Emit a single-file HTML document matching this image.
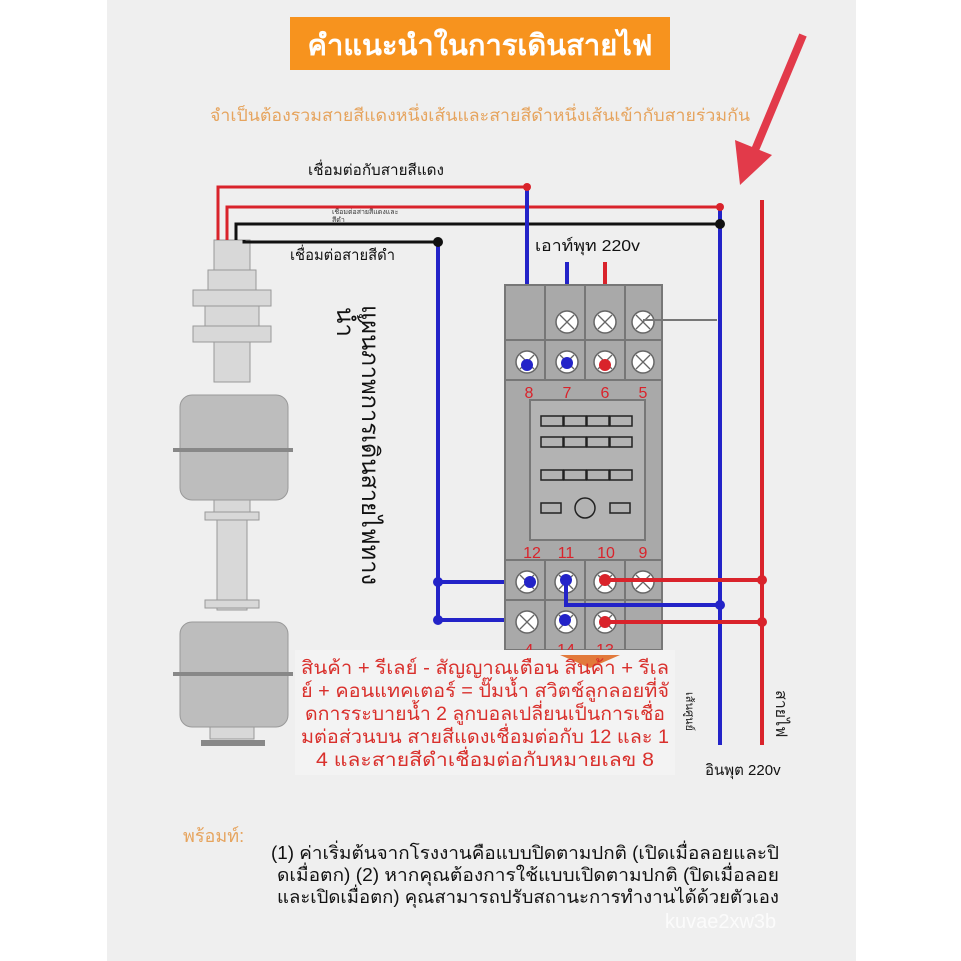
<!DOCTYPE html>
<html><head><meta charset="utf-8"><style>
html,body{margin:0;padding:0;background:#fff}
svg{display:block}
text{font-family:"Liberation Sans","Noto Sans CJK SC",sans-serif}
</style></head><body>
<svg width="961" height="961" viewBox="0 0 961 961" xmlns="http://www.w3.org/2000/svg">
<rect x="0" y="0" width="961" height="961" fill="#fff"/>
<rect x="107" y="0" width="749" height="961" fill="#efefef"/>
<!-- title -->
<rect x="290" y="17" width="380" height="53" fill="#f7931e"/>
<text x="480" y="55" font-size="29" font-weight="bold" fill="#fff" text-anchor="middle" textLength="345" lengthAdjust="spacingAndGlyphs">คำแนะนำในการเดินสายไฟ</text>
<text x="210" y="121" font-size="17" fill="#e6a45e" textLength="540" lengthAdjust="spacingAndGlyphs">จำเป็นต้องรวมสายสีแดงหนึ่งเส้นและสายสีดำหนึ่งเส้นเข้ากับสายร่วมกัน</text>
<!-- arrow -->
<line x1="803" y1="35" x2="755" y2="150" stroke="#e23a4a" stroke-width="8"/>
<polygon points="735,140 740,185 772,155" fill="#e23a4a"/>
<!-- labels -->
<text x="308" y="175" font-size="15" fill="#111" textLength="136" lengthAdjust="spacingAndGlyphs">เชื่อมต่อกับสายสีแดง</text>
<text x="332" y="214" font-size="7" fill="#333">เชื่อมต่อสายสีแดงและ</text>
<text x="332" y="222" font-size="7" fill="#333">สีดำ</text>
<text x="290" y="260" font-size="15" fill="#111" textLength="105" lengthAdjust="spacingAndGlyphs">เชื่อมต่อสายสีดำ</text>
<text x="535" y="251" font-size="16" fill="#111" textLength="105" lengthAdjust="spacingAndGlyphs">เอาท์พุท 220v</text>
<!-- float switch -->
<g fill="#d8d8d8" stroke="#999" stroke-width="1">
<rect x="214" y="240" width="36" height="30"/>
<rect x="208" y="270" width="48" height="20"/>
<rect x="193" y="290" width="78" height="16"/>
<rect x="205" y="306" width="54" height="20"/>
<rect x="193" y="326" width="78" height="16"/>
<rect x="214" y="342" width="36" height="40"/>
<rect x="180" y="395" width="108" height="105" rx="12" fill="#bdbdbd"/>
<rect x="214" y="500" width="36" height="12"/>
<rect x="205" y="512" width="54" height="8"/>
<rect x="217" y="520" width="30" height="90"/>
<rect x="205" y="600" width="54" height="8"/>
<rect x="180" y="622" width="108" height="105" rx="12" fill="#bdbdbd"/>
<rect x="210" y="727" width="44" height="12"/>
</g>
<rect x="173" y="448" width="120" height="4" fill="#888"/>
<rect x="173" y="672" width="120" height="4" fill="#888"/>
<rect x="201" y="740" width="64" height="6" fill="#888"/>
<!-- wires -->
<g fill="none" stroke-width="3">
<polyline points="218,240 218,187 527,187" stroke="#d9232b"/>
<polyline points="227,240 227,207 720,207" stroke="#d9232b"/>
<polyline points="236,240 236,224 720,224" stroke="#111"/>
<polyline points="244,240 244,242 438,242" stroke="#111"/>
<polyline points="527,187 527,365" stroke="#2323c8" stroke-width="4"/>
<polyline points="438,242 438,620 565,620" stroke="#2323c8" stroke-width="4"/>
<polyline points="438,582 530,582" stroke="#2323c8" stroke-width="4"/>
<polyline points="720,207 720,745" stroke="#2323c8" stroke-width="4"/>
<polyline points="567,262 567,363" stroke="#2323c8" stroke-width="4"/>
<polyline points="605,262 605,365" stroke="#d9232b" stroke-width="4"/>
<polyline points="762,200 762,745" stroke="#d9232b" stroke-width="4"/>
</g>
<!-- relay base -->
<rect x="505" y="285" width="157" height="365" fill="#a9a9a9" stroke="#777" stroke-width="2"/>
<rect x="530" y="400" width="115" height="140" fill="#b3b3b3" stroke="#777" stroke-width="2"/>
<g stroke="#777" stroke-width="2">
<line x1="545" y1="285" x2="545" y2="380"/><line x1="585" y1="285" x2="585" y2="380"/><line x1="625" y1="285" x2="625" y2="380"/>
<line x1="545" y1="560" x2="545" y2="650"/><line x1="585" y1="560" x2="585" y2="650"/><line x1="625" y1="560" x2="625" y2="650"/>
<line x1="505" y1="560" x2="662" y2="560"/><line x1="505" y1="380" x2="662" y2="380"/>
<line x1="505" y1="340" x2="662" y2="340"/><line x1="505" y1="600" x2="662" y2="600"/>
</g>
<g fill="#fff" stroke="#666" stroke-width="1.5">
<circle cx="567" cy="322" r="11"/><circle cx="605" cy="322" r="11"/><circle cx="643" cy="322" r="11"/>
<circle cx="527" cy="362" r="11"/><circle cx="567" cy="362" r="11"/><circle cx="605" cy="362" r="11"/><circle cx="643" cy="362" r="11"/>
<circle cx="527" cy="582" r="11"/><circle cx="566" cy="582" r="11"/><circle cx="605" cy="582" r="11"/><circle cx="643" cy="582" r="11"/>
<circle cx="527" cy="622" r="11"/><circle cx="566" cy="622" r="11"/><circle cx="605" cy="622" r="11"/>
</g>
<g stroke="#666" stroke-width="1.3">
<path d="M560,315l14,14M574,315l-14,14M598,315l14,14M612,315l-14,14M636,315l14,14M650,315l-14,14"/>
<path d="M520,355l14,14M534,355l-14,14M560,355l14,14M574,355l-14,14M598,355l14,14M612,355l-14,14M636,355l14,14M650,355l-14,14"/>
<path d="M520,575l14,14M534,575l-14,14M559,575l14,14M573,575l-14,14M598,575l14,14M612,575l-14,14M636,575l14,14M650,575l-14,14"/>
<path d="M520,615l14,14M534,615l-14,14M559,615l14,14M573,615l-14,14M598,615l14,14M612,615l-14,14"/>
</g>
<g fill="none" stroke="#222" stroke-width="1.5">
<rect x="541" y="416" width="22" height="10"/><rect x="564" y="416" width="22" height="10"/><rect x="587" y="416" width="22" height="10"/><rect x="610" y="416" width="22" height="10"/>
<rect x="541" y="437" width="22" height="10"/><rect x="564" y="437" width="22" height="10"/><rect x="587" y="437" width="22" height="10"/><rect x="610" y="437" width="22" height="10"/>
<rect x="541" y="470" width="22" height="10"/><rect x="564" y="470" width="22" height="10"/><rect x="587" y="470" width="22" height="10"/><rect x="610" y="470" width="22" height="10"/>
<rect x="541" y="503" width="20" height="10"/><circle cx="585" cy="508" r="10"/><rect x="610" y="503" width="20" height="10"/>
</g>
<line x1="643" y1="320" x2="717" y2="320" stroke="#777" stroke-width="2"/>
<g font-size="16" fill="#d9232b" text-anchor="middle">
<text x="529" y="398">8</text><text x="567" y="398">7</text><text x="605" y="398">6</text><text x="643" y="398">5</text>
<text x="532" y="558">12</text><text x="566" y="558">11</text><text x="606" y="558">10</text><text x="643" y="558">9</text>
<text x="529" y="655">4</text><text x="566" y="655">14</text><text x="605" y="655">13</text>
</g>
<g fill="none" stroke-width="4">
<polyline points="605,580 762,580" stroke="#d9232b"/>
<polyline points="605,622 762,622" stroke="#d9232b"/>
<polyline points="566,580 566,605 720,605" stroke="#2323c8"/>
</g>
<g fill="#d9232b"><circle cx="527" cy="187" r="4"/><circle cx="720" cy="207" r="4"/><circle cx="605" cy="365" r="6"/><circle cx="605" cy="580" r="6"/><circle cx="605" cy="622" r="6"/><circle cx="762" cy="580" r="5"/><circle cx="762" cy="622" r="5"/></g>
<g fill="#111"><circle cx="720" cy="224" r="5"/><circle cx="438" cy="242" r="5"/></g>
<g fill="#2323c8"><circle cx="527" cy="365" r="6"/><circle cx="567" cy="363" r="6"/><circle cx="530" cy="582" r="6"/><circle cx="566" cy="580" r="6"/><circle cx="565" cy="620" r="6"/><circle cx="438" cy="582" r="5"/><circle cx="438" cy="620" r="5"/><circle cx="720" cy="605" r="5"/></g>
<!-- vertical title -->
<text transform="translate(362,305) rotate(90)" font-size="24" fill="#111" textLength="280" lengthAdjust="spacingAndGlyphs">แผนภาพการเดินสายไฟทาง</text>
<text transform="translate(337,307) rotate(90)" font-size="24" fill="#111">น้ำ</text>
<!-- red body -->
<rect x="295" y="650" width="380" height="125" fill="#f3f3f3"/>
<polygon points="560,655 590,668 620,655" fill="#e2793a"/>
<g font-size="19" fill="#d9302c" text-anchor="middle">
<text x="485" y="674" textLength="368" lengthAdjust="spacingAndGlyphs">สินค้า + รีเลย์ - สัญญาณเตือน สินค้า + รีเล</text>
<text x="485" y="697" textLength="368" lengthAdjust="spacingAndGlyphs">ย์ + คอนแทคเตอร์ = ปั๊มน้ำ สวิตช์ลูกลอยที่จั</text>
<text x="485" y="720" textLength="360" lengthAdjust="spacingAndGlyphs">ดการระบายน้ำ 2 ลูกบอลเปลี่ยนเป็นการเชื่อ</text>
<text x="485" y="743" textLength="368" lengthAdjust="spacingAndGlyphs">มต่อส่วนบน สายสีแดงเชื่อมต่อกับ 12 และ 1</text>
<text x="485" y="766" textLength="338" lengthAdjust="spacingAndGlyphs">4 และสายสีดำเชื่อมต่อกับหมายเลข 8</text>
</g>
<text transform="translate(686,692) rotate(90)" font-size="11" fill="#222">เส้นศูนย์</text>
<text transform="translate(776,690) rotate(90)" font-size="16" fill="#222">สายไฟ</text>
<text x="705" y="775" font-size="15" fill="#111">อินพุต 220v</text>
<text x="183" y="842" font-size="18" fill="#e6a45e">พร้อมท์:</text>
<g font-size="18" fill="#111" text-anchor="end">
<text x="779" y="859" textLength="508" lengthAdjust="spacingAndGlyphs">(1) ค่าเริ่มต้นจากโรงงานคือแบบปิดตามปกติ (เปิดเมื่อลอยและปิ</text>
<text x="779" y="881" textLength="502" lengthAdjust="spacingAndGlyphs">ดเมื่อตก) (2) หากคุณต้องการใช้แบบเปิดตามปกติ (ปิดเมื่อลอย</text>
<text x="779" y="903" textLength="502" lengthAdjust="spacingAndGlyphs">และเปิดเมื่อตก) คุณสามารถปรับสถานะการทำงานได้ด้วยตัวเอง</text>
</g>
<text x="665" y="928" font-size="20" fill="#fff" opacity="0.8">kuvae2xw3b</text>
</svg>
</body></html>
